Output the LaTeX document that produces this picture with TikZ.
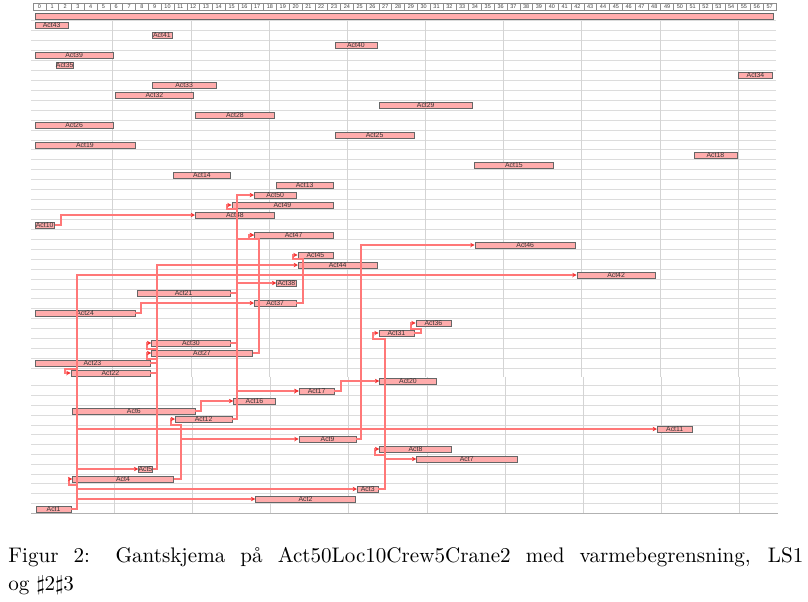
\documentclass[tikz,border=0pt]{standalone}
\usepackage{fontspec}
\newfontfamily\barfont{Liberation Sans}
\usetikzlibrary{arrows.meta}
\definecolor{barpink}{RGB}{255,172,172}
\definecolor{linkred}{RGB}{255,120,120}
\definecolor{tipred}{RGB}{245,50,50}
\definecolor{gridgray}{RGB}{220,220,220}
\definecolor{vgridgray}{RGB}{212,212,212}
\begin{document}
\begin{tikzpicture}[x=0.25mm, y=-0.25mm,
  gbarbox/.style={anchor=west, draw=black!60, line width=0.3pt, fill=barpink,
    minimum height=1.5mm, inner sep=0pt, text=black!80,
    font=\barfont\fontsize{4.9}{5}\selectfont},
  gshadow/.style={fill=black!65, draw=none},
  hdrcell/.style={draw=black!45, line width=0.3pt, fill=white, minimum width=12.81*0.25mm,
    minimum height=1.75mm, inner sep=0pt, font=\barfont\fontsize{3.9}{4}\selectfont, text=black!75},
  hgrid/.style={draw=gridgray, line width=0.5pt},
  vgrid/.style={draw=vgridgray, line width=0.7pt},
  link/.style={draw=linkred, line width=0.5mm, -{Stealth[length=1.1mm,width=1.1mm,color=tipred]}},
  capline/.style={anchor=base west, inner sep=0pt, font=\fontsize{10}{12}\selectfont, scale=1.5, transform shape}]
\useasboundingbox (0,0) rectangle (808,601);
\fill[white] (0,0) rectangle (808,601);
% header
\foreach \k in {0,...,57} {
  \node[hdrcell] (h\k) at ({33+12.81*(\k+0.5)},6.8) {\k};
}
% grid
\foreach \k in {0,...,35} { \draw[hgrid] (31,{20.75+9.93*\k}) -- (776,{20.75+9.93*\k}); }
\foreach \k in {0,...,12} { \draw[hgrid] (31,{385.6+9.82*\k}) -- (777.5,{385.6+9.82*\k}); }
\draw[draw=black!30, line width=0.6pt] (31,513.3) -- (777.5,513.3);
\foreach \t in {6,12,...,54} {
  \draw[vgrid] ({34.7+13.03*\t},20.7) -- ({34.7+13.03*\t},376.5);
  \draw[vgrid] ({36.2+13.03*\t},376.5) -- ({36.2+13.03*\t},513.3);
}
% bars: shadow then bar
\newcommand\gb[5]{\fill[gshadow] (#2+1.2,#4-1.8) rectangle (#3,#4+4.0);
  \node[gbarbox, minimum width={(#3-#2-1)*0.25mm}] (#1) at (#2,#4) {#5};}
\fill[gshadow] (35.8,14.2) rectangle (773.5,20.3);
\node[gbarbox, minimum width={(773.5-34.7-1)*0.25mm}, minimum height=1.7mm] (P) at (34.7,16.3) {};
\gb{A43}{34.7}{69.3}{25}{Act43}
\gb{A41}{151.7}{172.7}{35}{Act41}
\gb{A40}{334.7}{377.7}{45}{Act40}
\gb{A39}{34.7}{114}{55}{Act39}
\gb{A35}{55.7}{69.7}{65}{Act35}
\gb{A34}{738.3}{773.3}{75}{Act34}
\gb{A33}{151.7}{217}{85}{Act33}
\gb{A32}{115}{194.3}{95}{Act32}
\gb{A29}{378.7}{473.3}{105}{Act29}
\gb{A28}{195}{275.3}{115}{Act28}
\gb{A26}{34.7}{114}{125}{Act26}
\gb{A25}{334.7}{415}{135}{Act25}
\gb{A19}{34.7}{135.7}{145}{Act19}
\gb{A18}{693.7}{737.7}{155}{Act18}
\gb{A15}{474.3}{554}{165}{Act15}
\gb{A14}{173.3}{231}{175}{Act14}
\gb{A13}{276.3}{333.7}{185}{Act13}
\gb{A50}{254}{297}{195}{Act50}
\gb{A49}{231.7}{333.7}{205}{Act49}
\gb{A48}{195}{275.3}{215}{Act48}
\gb{A10}{34.7}{55.3}{225}{Act10}
\gb{A47}{254}{333.7}{235}{Act47}
\gb{A46}{474.7}{576.3}{245}{Act46}
\gb{A45}{297.7}{333.7}{255}{Act45}
\gb{A44}{298}{378}{265}{Act44}
\gb{A42}{576.7}{656}{275}{Act42}
\gb{A38}{276.3}{297}{283}{Act38}
\gb{A21}{136.7}{231}{293}{Act21}
\gb{A37}{254}{297}{303}{Act37}
\gb{A24}{34.7}{136}{313}{Act24}
\gb{A36}{415.7}{451.7}{323}{Act36}
\gb{A31}{378.7}{414.7}{333}{Act31}
\gb{A30}{151.3}{231}{343}{Act30}
\gb{A27}{151.3}{253.3}{353}{Act27}
\gb{A23}{34.7}{150.7}{363}{Act23}
\gb{A22}{70.7}{150.7}{373}{Act22}
\gb{A20}{379.3}{437.3}{381}{Act20}
\gb{A17}{298.7}{335}{391}{Act17}
\gb{A16}{233.3}{276.3}{401}{Act16}
\gb{A6}{72.3}{196}{411}{Act6}
\gb{A12}{175}{232.7}{419}{Act12}
\gb{A11}{657}{693}{429}{Act11}
\gb{A9}{298.7}{357}{439}{Act9}
\gb{A8}{379.3}{452.3}{449}{Act8}
\gb{A7}{416.3}{517.7}{459}{Act7}
\gb{A5}{138.3}{152.7}{469}{Act5}
\gb{A4}{72.3}{174.3}{479}{Act4}
\gb{A3}{357}{379}{489}{Act3}
\gb{A2}{255.3}{356.3}{499}{Act2}
\gb{A1}{36}{71.7}{509}{Act1}
% links
\draw[link] (A10.east) -- (61,0 |- A10.east) |- (A48.west);
\draw[link] (A21.east) -- (237,0 |- A21.east) |- (A50.west);
\draw[link] (A21.east) -- (237,0 |- A21.east) |- (A38.west);
\draw[link] (A21.east) -- (237,0 |- A21.east) -- (237,209) -- (227,209) |- (A49.west);
\draw[link] (A30.east) -- (237,0 |- A30.east) -- (237,239) -- (249,239) |- (A47.west);
\draw[link] (A27.east) -- (259,0 |- A27.east) -- (259,239) -- (249,239) |- (A47.west);
\draw[link] (A30.east) -- (237,0 |- A30.east) |- (A17.west);
\draw[link] (A12.east) -- (237,0 |- A12.east) |- (A17.west);
\draw[link] (A37.east) -- (303,0 |- A37.east) -- (303,259) -- (293,259) |- (A45.west);
\draw[link] (A5.east) -- (157,0 |- A5.east) |- (A44.west);
\draw[link] (A23.east) -- (157,0 |- A23.east) -- (157,349) -- (147,349) |- (A30.west);
\draw[link] (A22.east) -- (157,0 |- A22.east) -- (157,359) -- (147,359) |- (A27.west);
\draw[link] (A24.east) -- (141,0 |- A24.east) |- (A37.west);
\draw[link] (A1.east) -- (77,0 |- A1.east) |- (A42.west);
\draw[link] (A1.east) -- (77,0 |- A1.east) |- (A11.west);
\draw[link] (A1.east) -- (77,0 |- A1.east) |- (A5.west);
\draw[link] (A1.east) -- (77,0 |- A1.east) -- (77,485) -- (69,485) |- (A4.west);
\draw[link] (A1.east) -- (77,0 |- A1.east) |- (A3.west);
\draw[link] (A1.east) -- (77,0 |- A1.east) |- (A2.west);
\draw[link] (A1.east) -- (77,0 |- A1.east) -- (77,369) -- (65,369) |- (A22.west);
\draw[link] (A9.east) -- (361,0 |- A9.east) |- (A46.west);
\draw[link] (A17.east) -- (341,0 |- A17.east) |- (A20.west);
\draw[link] (A31.east) -- (421,0 |- A31.east) -- (421,329) -- (411,329) |- (A36.west);
\draw[link] (A3.east) -- (385,0 |- A3.east) -- (385,339) -- (373,339) |- (A31.west);
\draw[link] (A3.east) -- (385,0 |- A3.east) -- (385,455) -- (375,455) |- (A8.west);
\draw[link] (A3.east) -- (385,0 |- A3.east) |- (A7.west);
\draw[link] (A4.east) -- (181,0 |- A4.east) -- (181,425) -- (171,425) |- (A12.west);
\draw[link] (A4.east) -- (181,0 |- A4.east) |- (A9.west);
\draw[link] (A6.east) -- (201,0 |- A6.east) |- (A16.west);
% caption
\node[capline] (cap1) at (8,562.3) {\makebox[132.5mm][s]{Figur 2: Gantskjema på Act50Loc10Crew5Crane2 med varmebegrensning, LS1}};
\node[capline] (cap2) at (8,590.3) {og $\sharp2\sharp3$};
\end{tikzpicture}
\end{document}
